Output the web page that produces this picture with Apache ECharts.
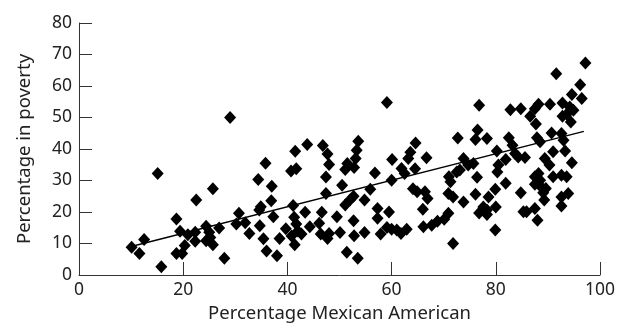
<!DOCTYPE html>
<html>
<head>
    <meta charset="UTF-8">
    <title>Poverty vs Mexican American</title>
    <script type="text/javascript" src="https://cdn.jsdelivr.net/npm/echarts@6/dist/echarts.min.js"></script>
    <style>
        html, body { margin: 0; padding: 0; background: #fff; }
        #chart { width: 620px; height: 328px; }
    </style>
</head>
<body>
<div id="chart"></div>
<script type="text/javascript">
    // percentage Mexican American (x) / percentage in poverty (y)
    var pctMexican = [
        10.1, 11.6, 12.5, 15.1, 15.8, 18.7, 18.7, 19.4, 19.8, 20.3,
        20.9, 22.3, 22.3, 22.5, 24.4, 24.4, 25.0, 25.2, 25.7, 25.7,
        26.9, 27.9, 29.0, 30.2, 30.7, 31.9, 32.7, 34.4, 34.6, 34.9,
        34.7, 35.4, 35.8, 36.0, 36.9, 37.0, 37.3, 38.0, 38.5, 39.7,
        40.7, 40.8, 41.1, 41.3, 41.4, 41.5, 41.7, 41.7, 42.0, 42.7,
        43.4, 43.8, 44.3, 46.1, 46.4, 46.6, 46.8, 47.4, 47.4, 47.7,
        47.7, 48.0, 48.0, 49.5, 50.1, 50.5, 51.1, 51.1, 51.4, 51.5,
        52.0, 52.7, 52.7, 52.8, 52.8, 53.1, 53.3, 53.5, 53.6, 54.8,
        54.8, 55.9, 56.8, 57.3, 57.3, 57.9, 59.1, 59.1, 59.5, 60.0,
        60.0, 60.1, 61.0, 61.8, 61.9, 62.5, 62.9, 63.2, 63.6, 64.1,
        64.5, 64.6, 64.9, 66.0, 66.1, 66.4, 66.7, 66.9, 67.7, 68.8,
        70.1, 70.9, 70.9, 71.0, 71.3, 71.8, 71.8, 72.7, 73.1, 73.8,
        73.8, 74.7, 75.7, 76.1, 76.1, 76.4, 76.5, 76.8, 76.8, 77.6,
        78.3, 78.3, 78.6, 79.9, 79.9, 80.0, 80.2, 80.3, 80.5, 81.9,
        81.9, 82.5, 82.8, 83.2, 83.7, 84.3, 84.8, 84.8, 85.3, 85.6,
        85.9, 86.6, 87.5, 87.5, 87.5, 87.5, 87.7, 87.9, 88.0, 88.2,
        88.2, 88.5, 88.5, 88.5, 89.1, 89.3, 89.4, 89.6, 90.3, 90.4,
        90.7, 91.0, 91.0, 91.6, 92.6, 92.6, 92.6, 92.6, 92.8, 92.8,
        93.0, 93.3, 93.6, 93.6, 93.9, 94.2, 94.4, 94.6, 94.6, 94.9,
        96.2, 96.5, 97.2, 78.3, 72.5
    ];
    var pctPoverty = [
        8.8, 6.8, 11.3, 32.2, 2.6, 17.8, 6.8, 13.9, 6.8, 9.4,
        12.8, 13.6, 10.7, 23.8, 15.5, 10.9, 13.6, 11.9, 9.6, 27.4,
        14.9, 5.3, 50.0, 16.2, 19.6, 16.6, 13.2, 30.3, 20.6, 21.7,
        15.6, 11.5, 35.5, 7.6, 23.6, 28.2, 18.5, 6.1, 11.6, 14.7,
        33.0, 12.4, 22.1, 18.3, 9.6, 39.3, 33.7, 16.2, 14.0, 13.0,
        19.9, 41.4, 15.3, 16.4, 13.0, 19.9, 41.1, 31.1, 25.9, 38.4,
        11.6, 35.1, 13.2, 18.5, 13.5, 28.5, 33.5, 22.2, 7.2, 35.4,
        23.8, 25.0, 17.2, 34.1, 12.5, 37.0, 39.6, 5.3, 42.5, 23.8,
        13.5, 27.2, 32.4, 21.1, 18.0, 13.0, 54.8, 15.1, 20.0, 30.1,
        14.5, 36.7, 14.3, 13.2, 33.8, 32.2, 14.5, 37.0, 39.0, 27.4,
        33.7, 41.9, 26.4, 20.9, 15.3, 26.4, 37.2, 24.3, 15.8, 17.1,
        17.7, 19.6, 25.9, 31.2, 29.6, 24.8, 10.0, 43.5, 33.3, 37.0,
        23.2, 34.9, 35.4, 43.0, 25.6, 31.0, 46.0, 53.9, 19.7, 21.6,
        43.3, 19.2, 24.8, 27.2, 14.3, 21.6, 39.4, 32.7, 34.9, 36.7,
        29.1, 43.6, 52.5, 41.2, 38.6, 37.5, 52.8, 26.1, 20.1, 37.3,
        20.1, 50.4, 52.8, 31.2, 28.8, 21.1, 47.9, 43.6, 17.4, 54.2,
        32.2, 42.3, 30.1, 28.3, 26.1, 23.8, 37.0, 27.5, 34.9, 54.2,
        45.1, 39.1, 31.2, 63.9, 44.9, 31.7, 24.8, 21.9, 54.6, 50.4,
        42.8, 39.4, 51.0, 31.2, 25.9, 53.3, 48.6, 57.3, 35.6, 52.3,
        60.4, 56.0, 67.3, 20.6, 32.7
    ];
    // fitted regression line end points
    var fitX = [10.4, 96.9];
    var fitY = [9.2, 45.6];

    var xTicks = [0, 20, 40, 60, 80, 100];
    var yTicks = [0, 10, 20, 30, 40, 50, 60, 70, 80];

    var points = [];
    for (var i = 0; i < pctMexican.length; i++) {
        points.push([pctMexican[i], pctPoverty[i]]);
    }
    var fitLine = [];
    for (var j = 0; j < fitX.length; j++) {
        fitLine.push([fitX[j], fitY[j]]);
    }

    var font = 'Noto Sans';
    var myChart = echarts.init(document.getElementById('chart'));
    var option = {
        animation: false,
        grid: { left: 79, right: 20, top: 23, bottom: 53, containLabel: false },
        xAxis: {
            type: 'value',
            min: xTicks[0],
            max: xTicks[xTicks.length - 1],
            interval: 20,
            name: 'Percentage Mexican American',
            nameLocation: 'middle',
            nameGap: 28,
            nameTextStyle: { fontFamily: font, fontSize: 18.5, color: '#222' },
            axisLine: { lineStyle: { color: '#333', width: 1 } },
            axisTick: { inside: true, length: 13, lineStyle: { color: '#333' } },
            axisLabel: { fontFamily: font, fontSize: 17.5, color: '#222', margin: 6 },
            splitLine: { show: false }
        },
        yAxis: {
            type: 'value',
            min: yTicks[0],
            max: yTicks[yTicks.length - 1],
            interval: 10,
            name: 'Percentage in poverty',
            nameLocation: 'middle',
            nameGap: 45,
            nameTextStyle: { fontFamily: font, fontSize: 18.5, color: '#222' },
            axisLine: { show: true, lineStyle: { color: '#333', width: 1 } },
            axisTick: { show: true, inside: true, length: 13, lineStyle: { color: '#333' } },
            axisLabel: { fontFamily: font, fontSize: 17.5, color: '#222', margin: 7 },
            splitLine: { show: false }
        },
        series: [{
            type: 'scatter',
            data: points,
            symbol: 'diamond',
            symbolSize: [12, 13],
            itemStyle: { color: '#000', opacity: 1 }
        }, {
            type: 'line',
            data: fitLine,
            symbol: 'none',
            lineStyle: { color: '#000', width: 1.5 },
            z: 3
        }]
    };
    myChart.setOption(option);
</script>
</body>
</html>
